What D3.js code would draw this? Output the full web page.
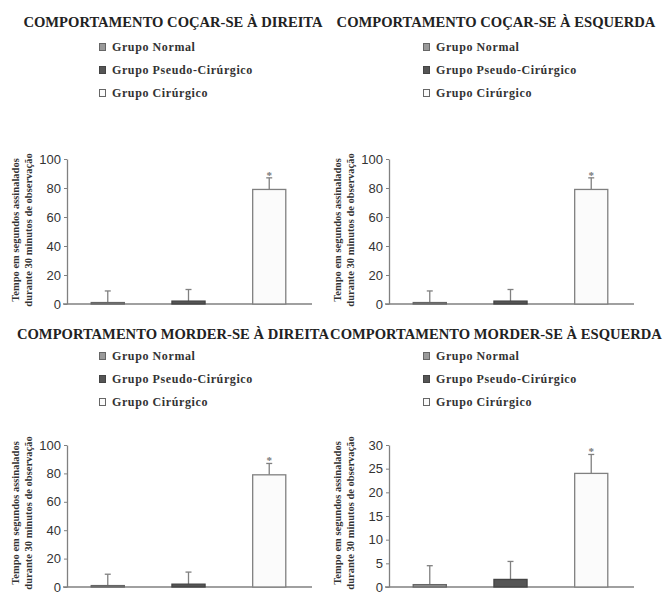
<!DOCTYPE html>
<meta charset="utf-8">

<!-- Load d3.js -->
<script src="https://d3js.org/d3.v7.min.js"></script>

<style>
  body { margin: 0; background: #fff; }
</style>

<div id="my_dataviz"></div>

<script>

// ---- data ----
var groups = ["Grupo Normal", "Grupo Pseudo-Cirúrgico", "Grupo Cirúrgico"];

var titles = [
  "COMPORTAMENTO COÇAR-SE À DIREITA",
  "COMPORTAMENTO COÇAR-SE À ESQUERDA",
  "COMPORTAMENTO MORDER-SE À DIREITA",
  "COMPORTAMENTO MORDER-SE À ESQUERDA"
];

var meanCocarDireita  = [1, 2, 79];
var errCocarDireita   = [8, 8, 8];
var meanCocarEsquerda = [1, 2, 79];
var errCocarEsquerda  = [8, 8, 8];
var meanMorderDireita = [1, 2, 79];
var errMorderDireita  = [8, 8.5, 8];
var meanMorderEsquerda = [0.5, 1.6, 24];
var errMorderEsquerda  = [4, 3.8, 4];

var ticks100 = [0, 20, 40, 60, 80, 100];
var ticks30  = [0, 5, 10, 15, 20, 25, 30];

var yLabelLines = ["Tempo em segundos assinalados", "durante 30 minutos de observação"];

var panels = [
  {title: titles[0], mean: meanCocarDireita,  err: errCocarDireita,  ticks: ticks100},
  {title: titles[1], mean: meanCocarEsquerda, err: errCocarEsquerda, ticks: ticks100},
  {title: titles[2], mean: meanMorderDireita, err: errMorderDireita, ticks: ticks100},
  {title: titles[3], mean: meanMorderEsquerda, err: errMorderEsquerda, ticks: ticks30}
];

// ---- layout ----
var W = 665, H = 592;
var colX = [67, 389];           // y-axis position of each column
var colCenter = [173, 496];     // title centre of each column
var legendX = [99, 423];
var rows = [
  {title: 27, legend: 47, yTop: 159, yBase: 304, labelMid: 230},
  {title: 339, legend: 356, yTop: 445, yBase: 587, labelMid: 513}
];
var plotWidth = 245;

var fills   = ["#9a9a9a", "#555555", "#fbfbfb"];
var strokes = ["#666666", "#444444", "#808080"];

var svg = d3.select("#my_dataviz")
  .append("svg")
    .attr("width", W)
    .attr("height", H)
    .style("font-family", "'Liberation Serif', 'Times New Roman', serif");

panels.forEach(function(p, i) {
  var col = i % 2, row = Math.floor(i / 2);
  var L = rows[row];

  // title
  svg.append("text")
    .attr("x", colCenter[col])
    .attr("y", L.title)
    .attr("text-anchor", "middle")
    .style("font-size", "14.6px")
    .style("font-weight", "bold")
    .style("fill", "#222")
    .text(p.title);

  // legend
  var leg = svg.append("g")
    .attr("transform", "translate(" + legendX[col] + "," + L.legend + ")");
  groups.forEach(function(gname, k) {
    leg.append("rect")
      .attr("x", 0.5)
      .attr("y", k * 23 - 3.5)
      .attr("width", 6)
      .attr("height", 7)
      .style("fill", fills[k])
      .style("stroke", k == 1 ? "#444" : "#666")
      .style("stroke-width", 1);
    leg.append("text")
      .attr("x", 13)
      .attr("y", k * 23 + 4)
      .style("font-size", "12px")
      .style("letter-spacing", "0.6px")
      .style("font-weight", "bold")
      .style("fill", "#333")
      .text(gname);
  });

  // chart area
  var g = svg.append("g")
    .attr("transform", "translate(" + colX[col] + ",0)");

  var y = d3.scaleLinear()
    .domain([0, d3.max(p.ticks)])
    .range([L.yBase, L.yTop]);

  var x = d3.scaleBand()
    .domain(groups)
    .range([0, plotWidth - 2])
    .paddingInner(0.59)
    .paddingOuter(0.3);

  // y axis
  var ya = g.append("g")
    .call(d3.axisLeft(y).tickValues(p.ticks).tickSize(3).tickPadding(3).tickSizeOuter(0));
  ya.select(".domain").attr("stroke", "#808080").attr("stroke-width", 1.3);
  ya.selectAll(".tick line").attr("stroke", "#808080");
  ya.selectAll(".tick text")
    .style("font-family", "'Liberation Sans', Arial, sans-serif")
    .style("font-size", "13px")
    .style("fill", "#333");

  // x axis (line only)
  var xa = g.append("g")
    .attr("transform", "translate(0," + L.yBase + ")")
    .call(d3.axisBottom(x).tickSize(0).tickSizeOuter(0).tickFormat(""));
  xa.select(".domain").attr("stroke", "#808080").attr("stroke-width", 1.3)
    .attr("d", "M-4,0H" + plotWidth);

  // error bars (upper half only)
  var eb = g.append("g");
  p.mean.forEach(function(m, k) {
    var cx = x(groups[k]) + x.bandwidth() / 2;
    eb.append("line")
      .attr("x1", cx).attr("x2", cx)
      .attr("y1", y(m)).attr("y2", y(m + p.err[k]))
      .style("stroke", "#808080").style("stroke-width", 1.3);
    eb.append("line")
      .attr("x1", cx - 3).attr("x2", cx + 3)
      .attr("y1", y(m + p.err[k])).attr("y2", y(m + p.err[k]))
      .style("stroke", "#808080").style("stroke-width", 1.3);
  });

  // bars
  g.append("g")
    .selectAll("rect")
    .data(p.mean)
    .enter()
    .append("rect")
      .attr("x", function(d, k) { return x(groups[k]); })
      .attr("y", function(d) { return y(d); })
      .attr("width", x.bandwidth())
      .attr("height", function(d) { return y(0) - y(d); })
      .style("fill", function(d, k) { return fills[k]; })
      .style("stroke", function(d, k) { return strokes[k]; })
      .style("stroke-width", 1.3);

  // significance asterisk on the surgical group
  var c3 = x(groups[2]) + x.bandwidth() / 2;
  g.append("text")
    .attr("x", c3)
    .attr("y", y(p.mean[2] + p.err[2]) + 1)
    .attr("text-anchor", "middle")
    .style("font-size", "11px")
    .style("font-weight", "bold")
    .style("fill", "#777")
    .text("*");

  // y axis label, two rotated lines
  yLabelLines.forEach(function(line, k) {
    svg.append("text")
      .attr("transform", "translate(" + (colX[col] - 48 + k * 13) + "," + L.labelMid + ") rotate(-90)")
      .attr("text-anchor", "middle")
      .style("font-size", "10.5px")
      .style("font-weight", "bold")
      .style("fill", "#333")
      .text(line);
  });
});

</script>
